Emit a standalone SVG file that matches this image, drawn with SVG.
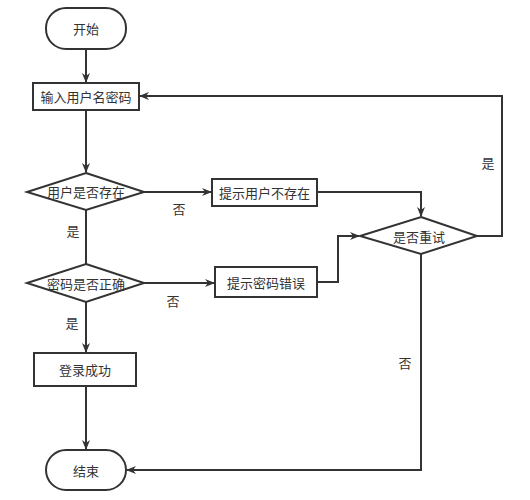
<svg xmlns="http://www.w3.org/2000/svg" width="530" height="500" viewBox="0 0 530 500">
<style>
.n{fill:#fff;stroke:#333;stroke-width:2}
.c{fill:none;stroke:#333;stroke-width:2}
text{font-family:"Noto Sans CJK SC","Liberation Sans",sans-serif;font-size:13px;fill:#333;text-anchor:middle;dominant-baseline:central}
</style>
<defs>
<marker id="a" markerWidth="10" markerHeight="8" refX="9" refY="4" orient="auto" markerUnits="userSpaceOnUse">
<path d="M0,0 L10,4 L0,8 L3,4 Z" fill="#333"/>
</marker>
</defs>
<rect width="530" height="500" fill="#fff"/>
<g id="connectors">
<path class="c" d="M86,49 V82" marker-end="url(#a)"/>
<path class="c" d="M86,110 V172" marker-end="url(#a)"/>
<path class="c" d="M144,192 H211" marker-end="url(#a)"/>
<path class="c" d="M317,192 H421 V216" marker-end="url(#a)"/>
<path class="c" d="M86,210 V264"/>
<path class="c" d="M144,283 H214" marker-end="url(#a)"/>
<path class="c" d="M317,282 H338 V236 H359" marker-end="url(#a)"/>
<path class="c" d="M477,236 H502 V96 H140" marker-end="url(#a)"/>
<path class="c" d="M86,302 V352" marker-end="url(#a)"/>
<path class="c" d="M86,386 V449" marker-end="url(#a)"/>
<path class="c" d="M421,254 V470 H127" marker-end="url(#a)"/>
<text x="488" y="162">是</text>
<text x="179" y="208">否</text>
<text x="73" y="230">是</text>
<text x="173" y="300">否</text>
<text x="72" y="322">是</text>
<text x="405" y="362">否</text>
</g>
<g id="start"><rect class="n" x="46" y="8" width="80" height="41" rx="20"/><text x="86" y="28.5">开始</text></g>
<g id="input"><rect class="n" x="33" y="83" width="106" height="27"/><text x="86" y="96.5">输入用户名密码</text></g>
<g id="userExists"><path class="n" d="M86,173 L144,192 L86,210 L27,192 Z"/><text x="86" y="191.5">用户是否存在</text></g>
<g id="userNotExist"><rect class="n" x="212" y="179" width="105" height="27"/><text x="264.5" y="192.5">提示用户不存在</text></g>
<g id="pwdCorrect"><path class="n" d="M86,264 L144,283 L86,302 L27,283 Z"/><text x="86" y="283">密码是否正确</text></g>
<g id="pwdError"><rect class="n" x="215" y="267" width="102" height="30"/><text x="266" y="282">提示密码错误</text></g>
<g id="retry"><path class="n" d="M421,217 L477,236 L421,254 L360,236 Z"/><text x="419" y="236">是否重试</text></g>
<g id="success"><rect class="n" x="34" y="353" width="102" height="33"/><text x="85" y="369.5">登录成功</text></g>
<g id="end"><rect class="n" x="46" y="450" width="80" height="40" rx="20"/><text x="86" y="470">结束</text></g>
</svg>
